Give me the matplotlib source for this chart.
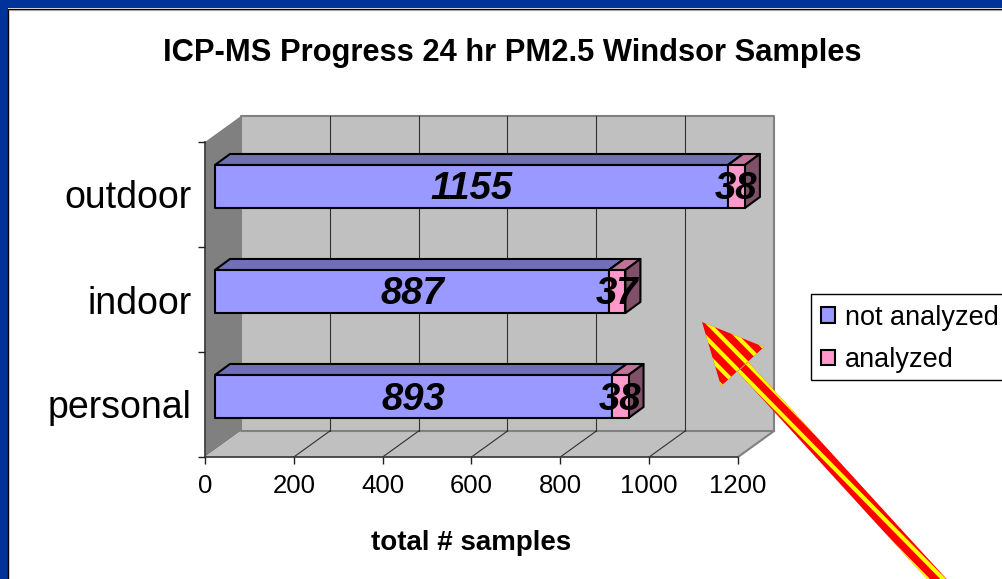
import matplotlib
matplotlib.use("Agg")
import matplotlib.pyplot as plt
from matplotlib.patches import Patch, Polygon, Rectangle
import numpy as np

plt.rcParams['font.family'] = ['Liberation Sans', 'DejaVu Sans']

categories = ['personal', 'indoor', 'outdoor']
not_analyzed = [893, 887, 1155]
analyzed = [38, 37, 38]
x_ticks = [0, 200, 400, 600, 800, 1000, 1200]

W, H = 1002, 579
PX_X = 1200 / 533.0   # data units per pixel, x
PX_Y = 3 / 315.0      # data units per pixel, y

# depth of the 3d box and of the bars, in data units
DEPTH_X, DEPTH_Y = 36 * PX_X, 26 * PX_Y
BAR_X0, BAR_Y0 = 10 * PX_X, 8 * PX_Y
BAR_DX, BAR_DY = 15 * PX_X, 11 * PX_Y
BAR_H = 43 * PX_Y


def poly(ax, pts, color, edge='none', lw=1.0, z=1):
    ax.add_patch(Polygon(pts, closed=True, facecolor=color, edgecolor=edge,
                         linewidth=lw, clip_on=False, zorder=z, joinstyle='round'))


def drawBox(ax, left, width, y, front, top, side, z):
    x0 = left + BAR_X0
    x1 = x0 + width
    y0 = y + BAR_Y0 - BAR_H / 2
    y1 = y0 + BAR_H
    poly(ax, [(x0, y1), (x0 + BAR_DX, y1 + BAR_DY), (x1 + BAR_DX, y1 + BAR_DY), (x1, y1)], top, 'black', 1.5, z)
    poly(ax, [(x1, y0), (x1 + BAR_DX, y0 + BAR_DY), (x1 + BAR_DX, y1 + BAR_DY), (x1, y1)], side, 'black', 1.5, z)
    poly(ax, [(x0, y0), (x1, y0), (x1, y1), (x0, y1)], front, 'black', 1.5, z)
    return x0


fig = plt.figure(figsize=(W / 100, H / 100), dpi=100, facecolor='white')
ax = fig.add_axes([205 / W, 1 - 457 / H, 533 / W, 315 / H], zorder=1)
ax.set_xlim(0, 1200)
ax.set_ylim(0, 3)
ax.patch.set_visible(False)

# walls and floor
poly(ax, [(0, 0), (DEPTH_X, DEPTH_Y), (DEPTH_X, 3 + DEPTH_Y), (0, 3)], '#808080', z=0.5)
poly(ax, [(0, 0), (1200, 0), (1200 + DEPTH_X, DEPTH_Y), (DEPTH_X, DEPTH_Y)], '#C0C0C0', z=0.5)
poly(ax, [(DEPTH_X, DEPTH_Y), (1200 + DEPTH_X, DEPTH_Y), (1200 + DEPTH_X, 3 + DEPTH_Y), (DEPTH_X, 3 + DEPTH_Y)],
     '#C0C0C0', '#808080', 1.5, z=0.6)
ax.plot([1200, 1200 + DEPTH_X], [0, DEPTH_Y], color='#808080', lw=1.5, clip_on=False, zorder=0.7)

for t in x_ticks[1:-1]:
    ax.plot([t + DEPTH_X, t + DEPTH_X], [DEPTH_Y, 3 + DEPTH_Y], color='#303030', lw=0.8, clip_on=False, zorder=0.8)
    ax.plot([t, t + DEPTH_X], [0, DEPTH_Y], color='#303030', lw=0.8, clip_on=False, zorder=0.8)

# bars
for i in range(len(categories)):
    y = i + 0.5
    drawBox(ax, 0, not_analyzed[i], y, '#9999FF', '#7070B8', '#6060A0', 2)
    drawBox(ax, not_analyzed[i], analyzed[i], y, '#FF99CC', '#BF7399', '#805068', 3)
    ax.text(BAR_X0 + not_analyzed[i] / 2, y + BAR_Y0 - 3 * PX_Y, str(not_analyzed[i]), ha='center', va='center',
            fontsize=27.5, fontweight='bold', fontstyle='italic', zorder=5)
    ax.text(BAR_X0 + not_analyzed[i] + analyzed[i] / 2, y + BAR_Y0 - 3 * PX_Y, str(analyzed[i]), ha='center', va='center',
            fontsize=27.5, fontweight='bold', fontstyle='italic', zorder=5)

# axes
for s in ['top', 'right']:
    ax.spines[s].set_visible(False)
for s in ['left', 'bottom']:
    ax.spines[s].set_color('#404040')
    ax.spines[s].set_linewidth(1.3)
    ax.spines[s].set_zorder(1)
ax.set_xticks(x_ticks)
ax.set_yticks([0, 1, 2, 3])
ax.set_yticklabels([])
ax.set_yticks([0.5, 1.5, 2.5], minor=True)
ax.set_yticklabels(categories, minor=True, fontsize=27)
ax.tick_params(axis='y', which='minor', length=0, pad=9.5)
ax.tick_params(axis='y', which='major', length=5, width=1, color='#202020')
ax.tick_params(axis='x', length=5, width=1, color='#202020', labelsize=18.5, pad=7)
ax.set_xlabel('total # samples', fontsize=20, fontweight='bold', labelpad=23.5)

handles = [Patch(facecolor='#9999FF', edgecolor='black', linewidth=1.5),
           Patch(facecolor='#FF99CC', edgecolor='black', linewidth=1.5)]
ax.legend(handles, ['not analyzed', 'analyzed'], loc='upper left', bbox_to_anchor=(811 / W, 1 - 295 / H),
          bbox_transform=fig.transFigure, fontsize=19.5, frameon=False,
          handlelength=0.52, handleheight=0.52, handletextpad=0.37, labelspacing=0.6, borderpad=0.36, borderaxespad=0)

# slide frame, legend box, title and arrow, in pixel coordinates
over = fig.add_axes([0, 0, 1, 1], zorder=0)
over.set_xlim(0, W)
over.set_ylim(H, 0)
over.axis('off')
over.add_patch(Rectangle((0, 0), W, 8, facecolor='#003399', edgecolor='none'))
over.add_patch(Rectangle((0, 0), 8, H, facecolor='#003399', edgecolor='none'))
over.plot([8.5, 8.5, W], [H, 8.5, 8.5], color='black', lw=1.0)
over.plot([9, W], [9.5, 9.5], color='#A0A0A0', lw=0.8)
over.add_patch(Rectangle((811.5, 293.5), 195, 86, facecolor='white', edgecolor='black', linewidth=1.0))
over.text(512, 53, 'ICP-MS Progress 24 hr PM2.5 Windsor Samples', ha='center', va='center',
          fontsize=22.2, fontweight='bold')

arrow = fig.add_axes([0, 0, 1, 1], zorder=2)
arrow.set_xlim(0, W)
arrow.set_ylim(H, 0)
arrow.axis('off')

tip = np.array([702.0, 322.0])
barb1 = np.array([764.0, 347.0])
barb2 = np.array([721.0, 386.0])
neck = np.array([743.0, 367.0])
end = np.array([946.0, 589.0])
shaft_dir = (end - neck) / np.linalg.norm(end - neck)
shaft_n = np.array([-shaft_dir[1], shaft_dir[0]]) * 7.2
shaft = Polygon([neck - shaft_n, neck + shaft_n, end + shaft_n, end - shaft_n], closed=True,
                facecolor='#FF0000', edgecolor='none')
head = Polygon([tip, barb1, barb2], closed=True, facecolor='#FF0000', edgecolor='none')
arrow.add_patch(shaft)
arrow.add_patch(head)

# hatch runs at a slightly different angle from the shaft, so the stripe drifts across it
angle = np.radians(45.5)
stripe_dir = np.array([np.cos(angle), np.sin(angle)])
stripe_n = np.array([-stripe_dir[1], stripe_dir[0]])
base = np.array([752.0, 368.0])
for k in range(-6, 7):
    p0 = base + stripe_n * k * 11.5 - stripe_dir * 100
    p1 = base + stripe_n * k * 11.5 + stripe_dir * 350
    for patch in [head, shaft]:
        line, = arrow.plot([p0[0], p1[0]], [p0[1], p1[1]], color='#FFFF00', lw=3.0, solid_capstyle='butt')
        line.set_clip_path(patch)

fig.savefig('out.png', dpi=100)
